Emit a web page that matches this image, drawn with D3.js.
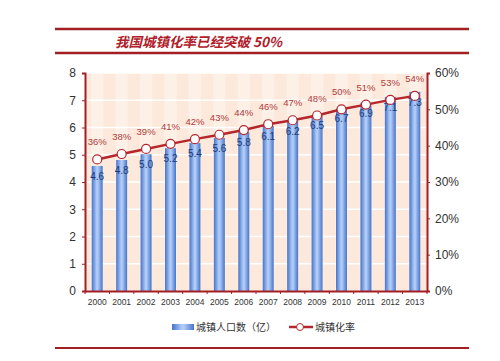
<!DOCTYPE html>
<html><head><meta charset="utf-8">
<script src="https://cdn.jsdelivr.net/npm/d3@7"></script>
<style>body{margin:0;background:#fff}svg{display:block}</style>
</head><body>
<script>
const years = ["2000","2001","2002","2003","2004","2005","2006","2007","2008","2009","2010","2011","2012","2013"];
const population = [4.59,4.81,5.02,5.24,5.43,5.62,5.83,6.06,6.24,6.45,6.70,6.91,7.12,7.31];
const popLabels = ["4.6","4.8","5.0","5.2","5.4","5.6","5.8","6.1","6.2","6.5","6.7","6.9","7.1","7.3"];
const rate = [36.2,37.7,39.1,40.5,41.8,43.0,44.3,45.9,47.0,48.3,50.0,51.3,52.6,53.7];
const rateLabels = ["36%","38%","39%","41%","42%","43%","44%","46%","47%","48%","50%","51%","53%","54%"];
const leftTicks = [0,1,2,3,4,5,6,7,8];
const rightTicks = [0,10,20,30,40,50,60];
const title = "我国城镇化率已经突破 50%";
const legendNames = ["城镇人口数（亿）","城镇化率"];

const W=500,H=361;
const svg=d3.select("body").append("svg").attr("width",W).attr("height",H);
const font="'Liberation Sans', Arial, 'Noto Sans CJK SC', sans-serif";
const red="#a31f24";
const x0=85,x1=427,yTop=73,yBot=291;
const x=d3.scaleBand().domain(years).range([x0,x1]).paddingInner(0).paddingOuter(0);
const yL=d3.scaleLinear().domain([0,8]).range([yBot,yTop]);
const yR=d3.scaleLinear().domain([0,60]).range([yBot,yTop]);

const defs=svg.append("defs");
const g=defs.append("linearGradient").attr("id","bar").attr("x1","0").attr("x2","1").attr("y1","0").attr("y2","0");
g.append("stop").attr("offset","0").attr("stop-color","#4574cc");
g.append("stop").attr("offset","0.45").attr("stop-color","#b0cbf5");
g.append("stop").attr("offset","0.55").attr("stop-color","#b0cbf5");
g.append("stop").attr("offset","1").attr("stop-color","#4574cc");

// header lines
svg.append("line").attr("x1",55).attr("x2",469).attr("y1",29).attr("y2",29).attr("stroke",red).attr("stroke-width",2.5);
svg.append("line").attr("x1",55).attr("x2",469).attr("y1",53).attr("y2",53).attr("stroke",red).attr("stroke-width",2.5);
svg.append("line").attr("x1",55).attr("x2",469).attr("y1",348).attr("y2",348).attr("stroke",red).attr("stroke-width",2);
svg.append("text").attr("x",115).attr("y",47).text(title)
  .attr("font-family","'Noto Sans CJK SC', sans-serif").attr("font-size",13.5).attr("font-weight","bold")
  .attr("font-style","italic").attr("fill","#b0202a");

// plot background
svg.append("rect").attr("x",x0).attr("y",yTop).attr("width",x1-x0).attr("height",yBot-yTop).attr("fill","#fce9dc");
svg.selectAll(".vband").data(years).enter().append("rect")
  .attr("x",d=>x(d)+x.bandwidth()*0.25).attr("y",yTop).attr("width",x.bandwidth()*0.5).attr("height",yBot-yTop)
  .attr("fill","#fdf0e6");
svg.selectAll(".grid").data(leftTicks.slice(1)).enter().append("line")
  .attr("x1",x0).attr("x2",x1).attr("y1",d=>yL(d)).attr("y2",d=>yL(d)).attr("stroke","#fff").attr("stroke-width",1.5);

// bars
const bw=11;
svg.selectAll(".bar").data(population).enter().append("rect")
  .attr("x",(d,i)=>x(years[i])+x.bandwidth()/2-bw/2).attr("y",d=>yL(d)).attr("width",bw)
  .attr("height",d=>yBot-yL(d)).attr("fill","url(#bar)");
svg.selectAll(".blab").data(population).enter().append("text")
  .attr("x",(d,i)=>x(years[i])+x.bandwidth()/2).attr("y",d=>yL(d)+14).attr("text-anchor","middle")
  .attr("font-family",font).attr("font-size",10).attr("fill","#1c3a78").text((d,i)=>popLabels[i]);

// axes
const axL=svg.append("g").attr("transform",`translate(${x0},0)`).call(d3.axisLeft(yL).tickValues(leftTicks).tickSize(3).tickFormat(d3.format("d")));
const axR=svg.append("g").attr("transform",`translate(${x1},0)`).call(d3.axisRight(yR).tickValues(rightTicks).tickSize(3).tickFormat(d=>d+"%"));
const axB=svg.append("g").attr("transform",`translate(0,${yBot})`).call(d3.axisBottom(x).tickSize(0).tickPadding(8));
[axL,axR,axB].forEach(a=>{
  a.selectAll("path").attr("stroke",red).attr("stroke-width",2);
  a.selectAll("line").attr("stroke",red);
  a.selectAll("text").attr("font-family",font).attr("fill","#333");
});
axL.selectAll("text").attr("font-size",12).attr("dx",-3);
axR.selectAll("text").attr("font-size",12).attr("dx",2);
axB.selectAll("text").attr("font-size",8.5);
// bottom small ticks between categories
svg.selectAll(".bt").data(years.concat(["end"])).enter().append("line")
  .attr("x1",(d,i)=>x0+i*x.step()).attr("x2",(d,i)=>x0+i*x.step()).attr("y1",yBot).attr("y2",yBot+3).attr("stroke",red);

// line
const line=d3.line().x((d,i)=>x(years[i])+x.bandwidth()/2).y(d=>yR(d));
svg.append("path").datum(rate).attr("d",line).attr("fill","none").attr("stroke","#b7262c").attr("stroke-width",2.5);
svg.selectAll(".pt").data(rate).enter().append("circle")
  .attr("cx",(d,i)=>x(years[i])+x.bandwidth()/2).attr("cy",d=>yR(d)).attr("r",4.5)
  .attr("fill","#fff").attr("stroke","#b7262c").attr("stroke-width",1.2);
svg.selectAll(".rlab").data(rate).enter().append("text")
  .attr("x",(d,i)=>x(years[i])+x.bandwidth()/2).attr("y",d=>yR(d)-14).attr("text-anchor","middle")
  .attr("font-family",font).attr("font-size",9.5).attr("fill","#b03a3a").text((d,i)=>rateLabels[i]);

// legend
const lg=svg.append("g");
lg.append("rect").attr("x",172).attr("y",324).attr("width",22).attr("height",6).attr("fill","url(#bar)");
lg.append("text").attr("x",196).attr("y",331).text(legendNames[0]).attr("font-family","'Noto Sans CJK SC', sans-serif").attr("font-size",10).attr("fill","#333");
lg.append("line").attr("x1",289).attr("x2",313).attr("y1",327).attr("y2",327).attr("stroke","#b7262c").attr("stroke-width",2.5);
lg.append("circle").attr("cx",300).attr("cy",327).attr("r",3.5).attr("fill","#fff").attr("stroke","#b7262c");
lg.append("text").attr("x",315).attr("y",331).text(legendNames[1]).attr("font-family","'Noto Sans CJK SC', sans-serif").attr("font-size",10).attr("fill","#333");
</script>
</body></html>
